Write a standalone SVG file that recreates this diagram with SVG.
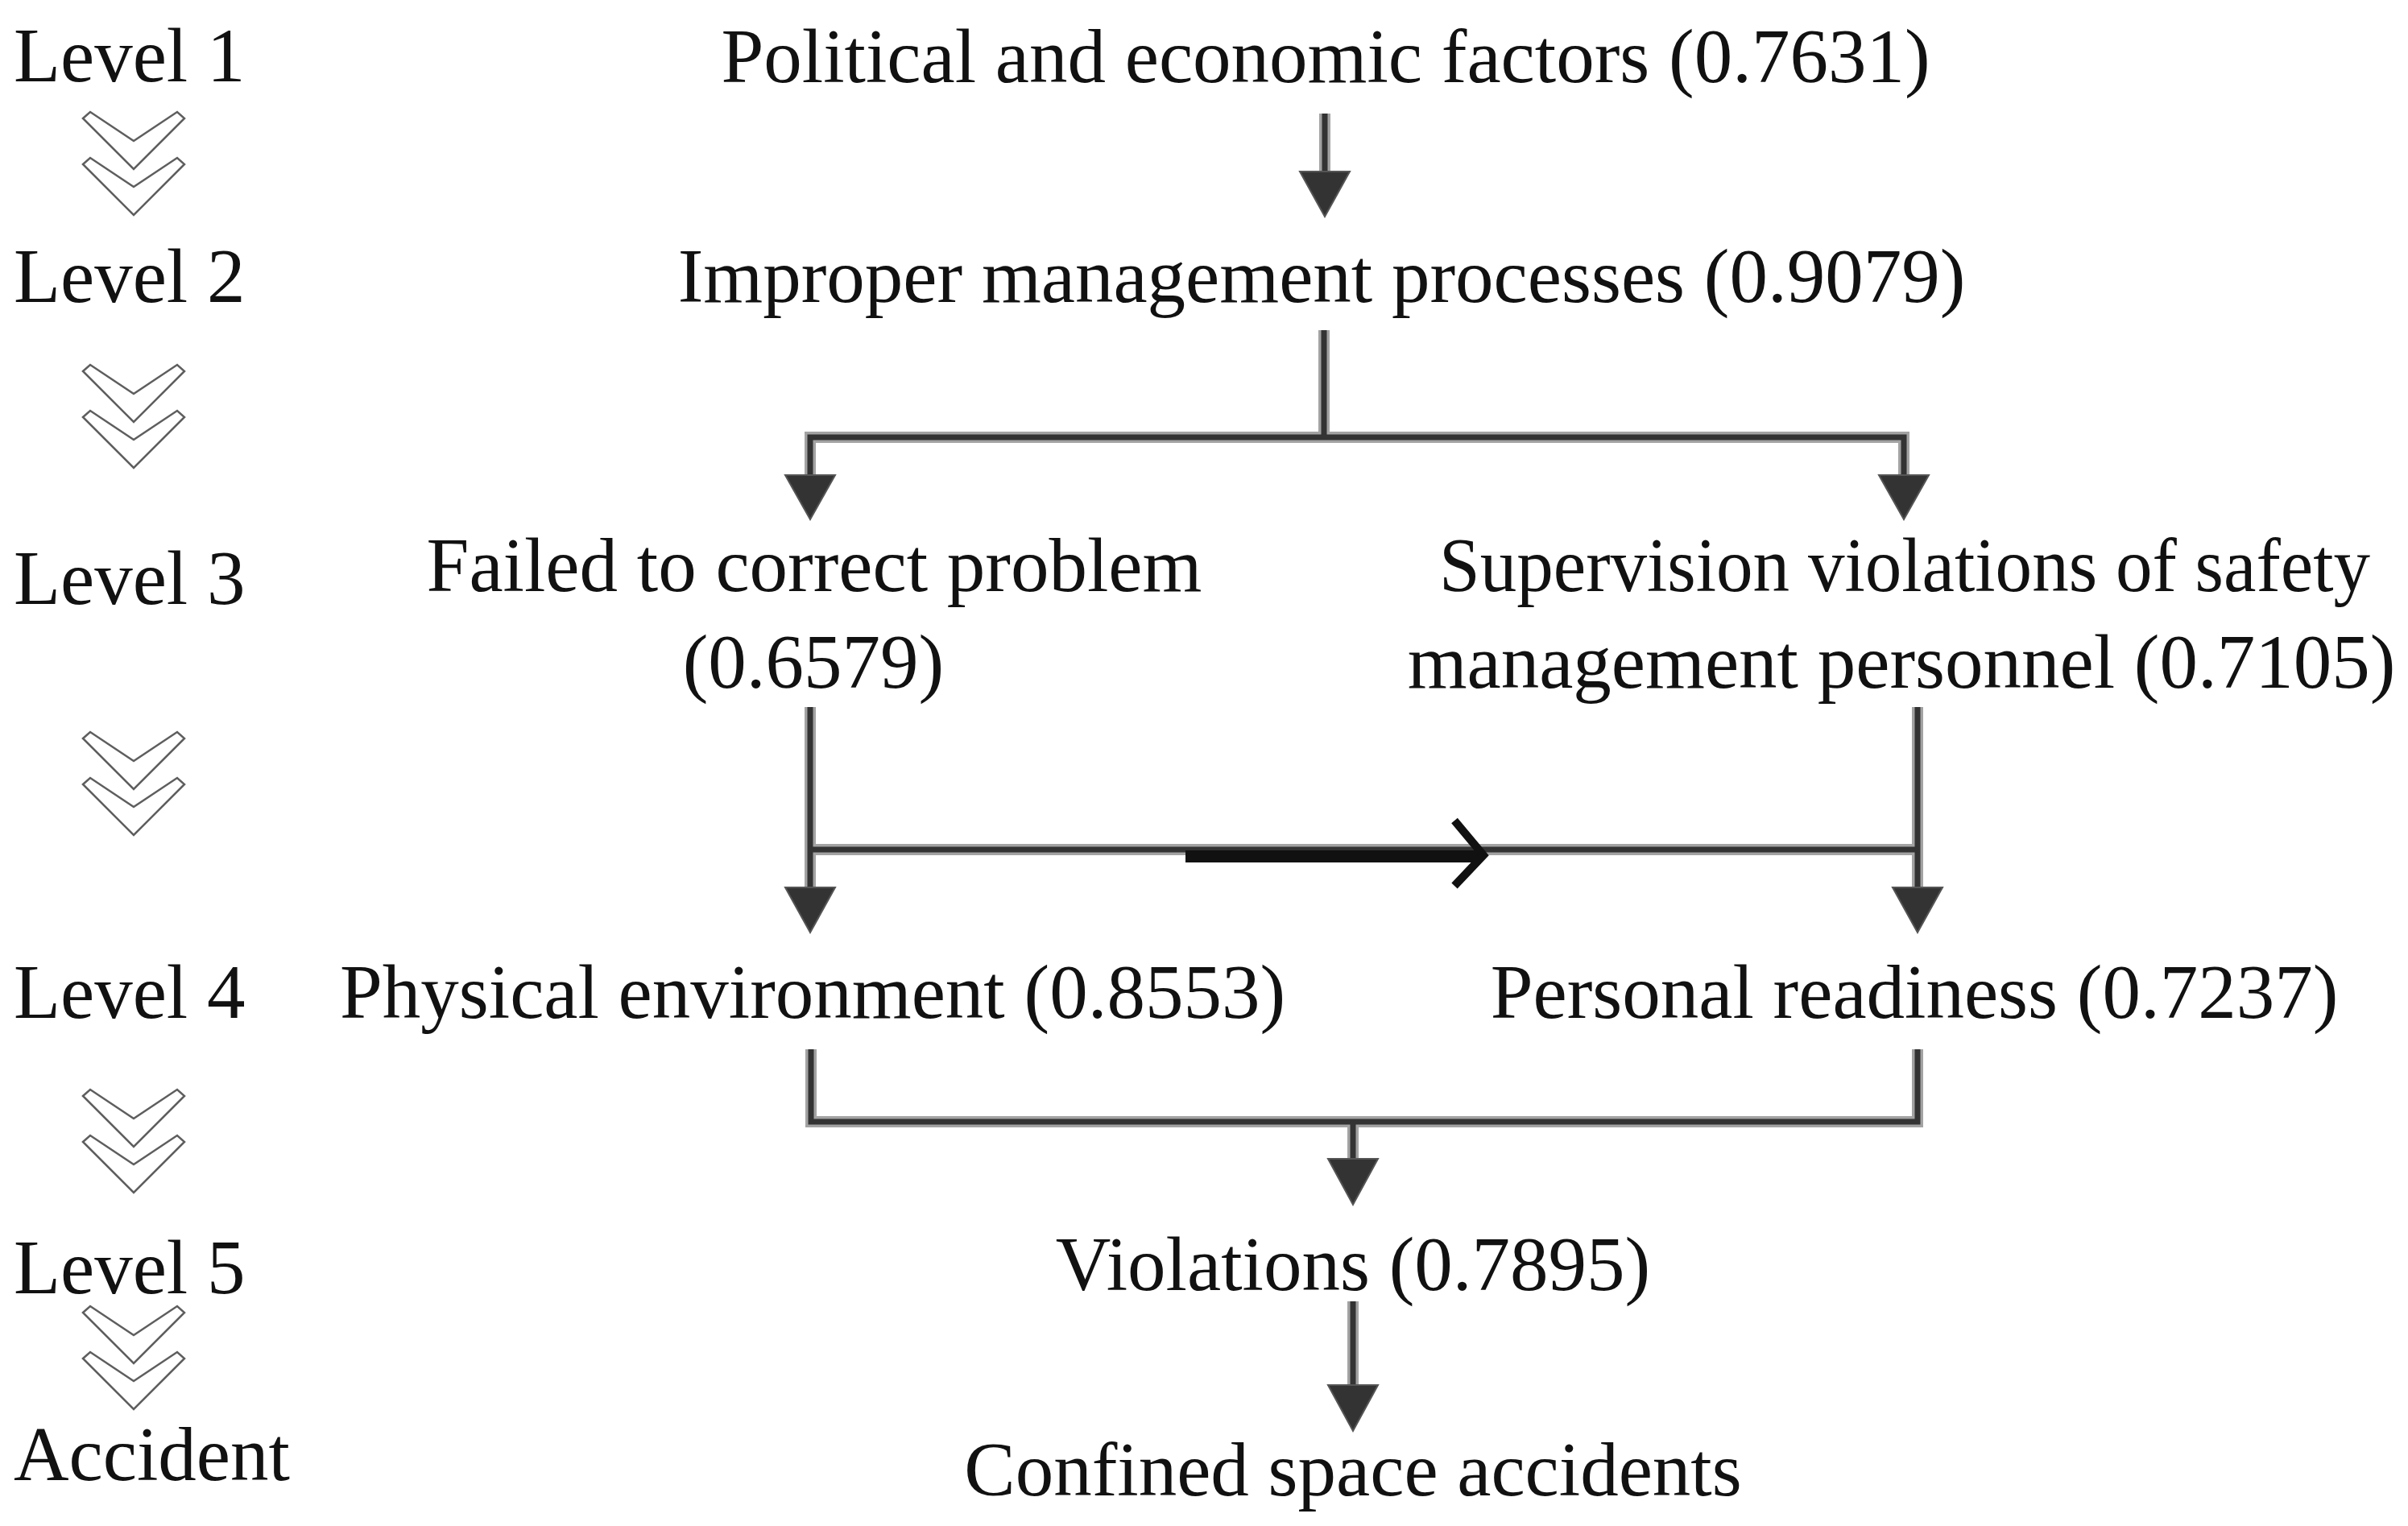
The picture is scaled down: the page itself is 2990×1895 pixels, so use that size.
<svg xmlns="http://www.w3.org/2000/svg" xmlns:xlink="http://www.w3.org/1999/xlink" width="2990" height="1895" viewBox="0 0 2990 1895">
<style>
.t{font-family:"Liberation Serif","Times New Roman",serif;font-size:95px;fill:#111}
.m{text-anchor:middle}
.halo{stroke:#a3a3a3;stroke-width:14;fill:none;stroke-linejoin:miter}
.core{stroke:#333;stroke-width:7;fill:none;stroke-linejoin:miter}
.head{fill:#333;stroke:#555;stroke-width:2}
.chev{fill:none;stroke:#5e5e5e;stroke-width:2.5;stroke-linejoin:miter}
</style>
<defs>
<g id="chev">
<polygon class="chev" points="-63,8 -54,0 0,36 54,0 63,8 0,71"/>
<polygon class="chev" points="-63,65 -54,57 0,93 54,57 63,65 0,128"/>
</g>
<path id="c1" d="M1645 141 V216"/>
<path id="c2" d="M1644 410 V543"/>
<path id="c3" d="M1006 592 V543 H2364 V592"/>
<path id="c4" d="M1006 878 V1103"/>
<path id="c5" d="M2381 878 V1103"/>
<path id="c6" d="M1006 1055 H2381"/>
<path id="c7" d="M1007 1303 V1393 H2381 V1303"/>
<path id="c8" d="M1680 1393 V1440"/>
<path id="c9" d="M1680 1616 V1722"/>
</defs>
<rect width="2990" height="1895" fill="#fff"/>
<g id="levels">
<g id="level1"><text class="t" x="17" y="101">Level 1</text></g>
<g id="level2"><text class="t" x="17" y="375">Level 2</text></g>
<g id="level3"><text class="t" x="17" y="750">Level 3</text></g>
<g id="level4"><text class="t" x="17" y="1264">Level 4</text></g>
<g id="level5"><text class="t" x="17" y="1606">Level 5</text></g>
<g id="accident"><text class="t" x="17" y="1838">Accident</text></g>
</g>
<g id="chevrons">
<use xlink:href="#chev" href="#chev" x="166" y="139"/>
<use xlink:href="#chev" href="#chev" x="166" y="453"/>
<use xlink:href="#chev" href="#chev" x="166" y="909"/>
<use xlink:href="#chev" href="#chev" x="166" y="1353"/>
<use xlink:href="#chev" href="#chev" x="166" y="1622"/>
</g>
<g id="connectors">
<g class="halo">
<use href="#c1"/><use href="#c2"/><use href="#c3"/><use href="#c4"/><use href="#c5"/><use href="#c6"/><use href="#c7"/><use href="#c8"/><use href="#c9"/>
</g>
<g class="core">
<use href="#c1"/><use href="#c2"/><use href="#c3"/><use href="#c4"/><use href="#c5"/><use href="#c6"/><use href="#c7"/><use href="#c8"/><use href="#c9"/>
</g>
<g class="head">
<polygon points="1614,213 1676,213 1645,269"/>
<polygon points="975,590 1037,590 1006,645"/>
<polygon points="2333,590 2395,590 2364,645"/>
<polygon points="975,1102 1037,1102 1006,1158"/>
<polygon points="2350,1102 2412,1102 2381,1158"/>
<polygon points="1649,1439 1711,1439 1680,1496"/>
<polygon points="1649,1720 1711,1720 1680,1777"/>
</g>
<g id="thick-arrow">
<rect x="1472" y="1056" width="366" height="15" fill="#111"/>
<polyline points="1806,1019 1842,1062 1806,1100" fill="none" stroke="#111" stroke-width="10"/>
</g>
</g>
<g id="n-political"><text class="t m" x="1646" y="102">Political and economic factors (0.7631)</text></g>
<g id="n-improper"><text class="t m" x="1641" y="375">Improper management processes (0.9079)</text></g>
<g id="n-failed"><text class="t m" x="1011" y="734">Failed to correct problem</text><text class="t m" x="1010" y="854">(0.6579)</text></g>
<g id="n-supervision"><text class="t m" x="2365" y="734" textLength="1156" lengthAdjust="spacingAndGlyphs">Supervision violations of safety</text><text class="t m" x="2361" y="854">management personnel (0.7105)</text></g>
<g id="n-physical"><text class="t m" x="1009" y="1264">Physical environment (0.8553)</text></g>
<g id="n-personal"><text class="t m" x="2377" y="1264">Personal readiness (0.7237)</text></g>
<g id="n-violations"><text class="t m" x="1680" y="1602">Violations (0.7895)</text></g>
<g id="n-confined"><text class="t m" x="1680" y="1857">Confined space accidents</text></g>
</svg>
